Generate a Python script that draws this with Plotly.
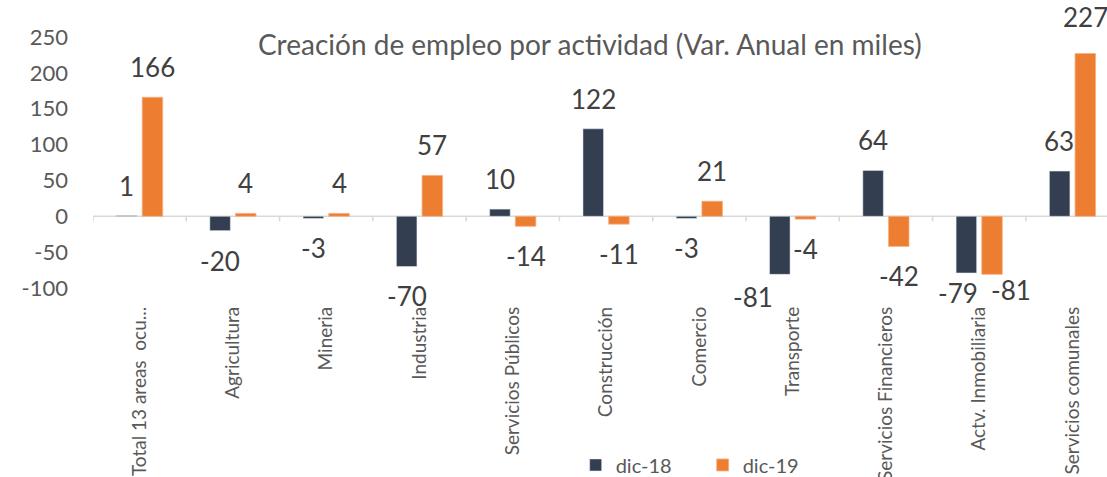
import plotly.graph_objects as go

categories = ["Total 13 areas\u00a0\u00a0ocu...", "Agricultura", "Mineria", "Industria",
              "Servicios Públicos", "Construcción", "Comercio", "Transporte",
              "Servicios Financieros", "Actv. Inmobiliaria", "Servicios comunales"]
dic18 = [1, -20, -3, -70, 10, 122, -3, -81, 64, -79, 63]
dic19 = [166, 4, 4, 57, -14, -11, 21, -4, -42, -81, 227]
y_ticks = [250, 200, 150, 100, 50, 0, -50, -100]
y_ticklabels = ["250", "200", "150", "100", "50", "0", "-50", "-100"]

DARK = "#333F50"
ORANGE = "#ED7D31"
FONT = "Lato"
n = len(categories)

fig = go.Figure()
fig.add_trace(go.Bar(name="dic-18", x=categories, y=dic18, marker_color=DARK,
                     offsetgroup="a"))
fig.add_trace(go.Bar(name="dic-19", x=categories, y=dic19, marker_color=ORANGE,
                     marker_line=dict(color="#F4B183", width=0.8), offsetgroup="b"))

# label nudges (dx, dy in screen pixels; dy>0 = down) for manually placed labels
nudge18 = {7: (-27, -7), 9: (-8, -10)}
nudge19 = {9: (19, -14), 10: (0, -6)}

group_px = 93.3
off = 13 / group_px  # half slot offset in category units
anns = []
for i, (a, b) in enumerate(zip(dic18, dic19)):
    for val, dx, nd in ((a, -off, nudge18), (b, off, nudge19)):
        xs, ys = nd.get(i, (0, 0))
        anns.append(dict(x=i + dx, y=val, xref="x", yref="y", text=str(val),
                         showarrow=False, font=dict(family=FONT, size=26, color="#404040"),
                         yshift=(30 if val >= 0 else -30) - ys, xshift=xs))

shapes = [dict(type="line", xref="x", yref="y", x0=-0.5, x1=n - 0.5, y0=0, y1=0,
               line=dict(color="#D9D9D9", width=1.5), layer="below")]
for i in range(n + 1):
    shapes.append(dict(type="line", xref="x", yref="y", x0=i - 0.5, x1=i - 0.5,
                       y0=0, y1=-7, line=dict(color="#D9D9D9", width=1.5), layer="below"))

anns.append(dict(text="Creación de empleo por actividad (Var. Anual en miles)",
                 xref="paper", yref="paper", x=(590 - 93) / (1107 - 93), y=(288 - 44) / (288 - 37),
                 xanchor="center", yanchor="middle", showarrow=False,
                 font=dict(family=FONT, size=28, color="#595959")))

fig.update_layout(
    width=1107, height=477,
    margin=dict(l=93, r=0, t=37, b=189, autoexpand=False),
    paper_bgcolor="white", plot_bgcolor="white",
    barmode="group", bargap=0.45, bargroupgap=0.2,
    showlegend=True,
    legend=dict(orientation="h", x=0.476, y=-0.705, xanchor="left", yanchor="middle",
                font=dict(family=FONT, size=20, color="#595959"),
                entrywidth=82, entrywidthmode="pixels"),
    xaxis=dict(range=[-0.5, 10.37], tickangle=-90, showgrid=False, showline=False,
               zeroline=False, ticks="", ticklabelstandoff=14, automargin=False,
               tickfont=dict(family=FONT, size=19, color="#595959")),
    yaxis=dict(range=[-100, 250], tickvals=y_ticks, ticktext=y_ticklabels,
               showgrid=False, zeroline=False, automargin=False,
               showline=False, ticks="", ticklabelstandoff=24,
               tickfont=dict(family=FONT, size=22, color="#595959")),
    annotations=anns, shapes=shapes,
)
fig.write_html("out.html")
